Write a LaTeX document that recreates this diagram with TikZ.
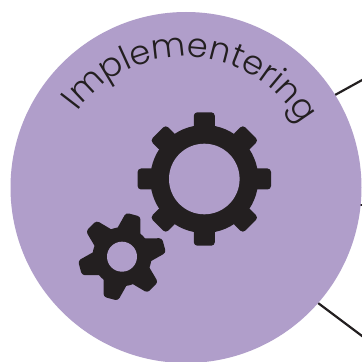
\documentclass[tikz,border=0pt]{standalone}
\usepackage{fontspec}
\newfontfamily\labelfont{Poppins Light}
\usetikzlibrary{decorations.text}
\definecolor{disc}{RGB}{176,158,202}
\definecolor{ink}{RGB}{35,31,32}
\tikzset{
  x=1pt,y=1pt,
  connector/.style={draw=ink,line width=2.2pt},
  gearfill/.style={fill=ink,draw=none},
  holefill/.style={fill=disc,draw=none},
  bigtooth/.style={fill=ink,draw=none,rounded corners=3.5pt},
}
\begin{document}
\begin{tikzpicture}
\useasboundingbox (0,0) rectangle (362,362);
\fill[white] (0,0) rectangle (362,362);
\coordinate (discc) at (186,174.5);
\coordinate (textc) at (185,172);
\coordinate (bigc) at (204.3,183);
\coordinate (smallc) at (122,105.3);
% connector stubs
\coordinate (a1) at (335,267);
\coordinate (a2) at (364,283);
\coordinate (b1) at (355,157);
\coordinate (b2) at (364,157);
\coordinate (c1) at (318,59);
\coordinate (c2) at (364,24.5);
\draw[connector] (a1) -- (a2);
\draw[connector] (b1) -- (b2);
\draw[connector] (c1) -- (c2);
% disc
\fill[disc] (discc) circle[radius=175.5];
% label
\path[decorate,decoration={text along path,text align=fit to path,
  text={|\fontsize{33.5}{33.5}\selectfont\labelfont\color{ink}|Implementering}}]
  (textc) ++(144:133) arc[start angle=144,end angle=33,radius=133];
% big gear
\foreach \a in {0,90,180,270}{
  \fill[bigtooth,shift={(bigc)},rotate=\a] (45,-10.5) -- (66.7,-10.5) -- (66.7,10.5) -- (45,10.5) -- cycle;
}
\foreach \a in {45,135,225,315}{
  \fill[bigtooth,shift={(bigc)},rotate=\a] (45,-9) -- (50,-11) -- (65.5,-11) -- (65.5,11) -- (50,11) -- (45,9) -- cycle;
}
\fill[gearfill] (bigc) circle[radius=54];
\fill[holefill] (bigc) circle[radius=35.3];
% small gear
\foreach \a in {15,75,135,195,255,315}{
  \fill[bigtooth,rounded corners=3pt,shift={(smallc)},rotate=\a] (22,-13) -- (43.5,-7.5) -- (43.5,7.5) -- (22,13) -- cycle;
}
\fill[gearfill] (smallc) circle[radius=29.5];
\fill[holefill] (smallc) circle[radius=15];
\end{tikzpicture}
\end{document}
